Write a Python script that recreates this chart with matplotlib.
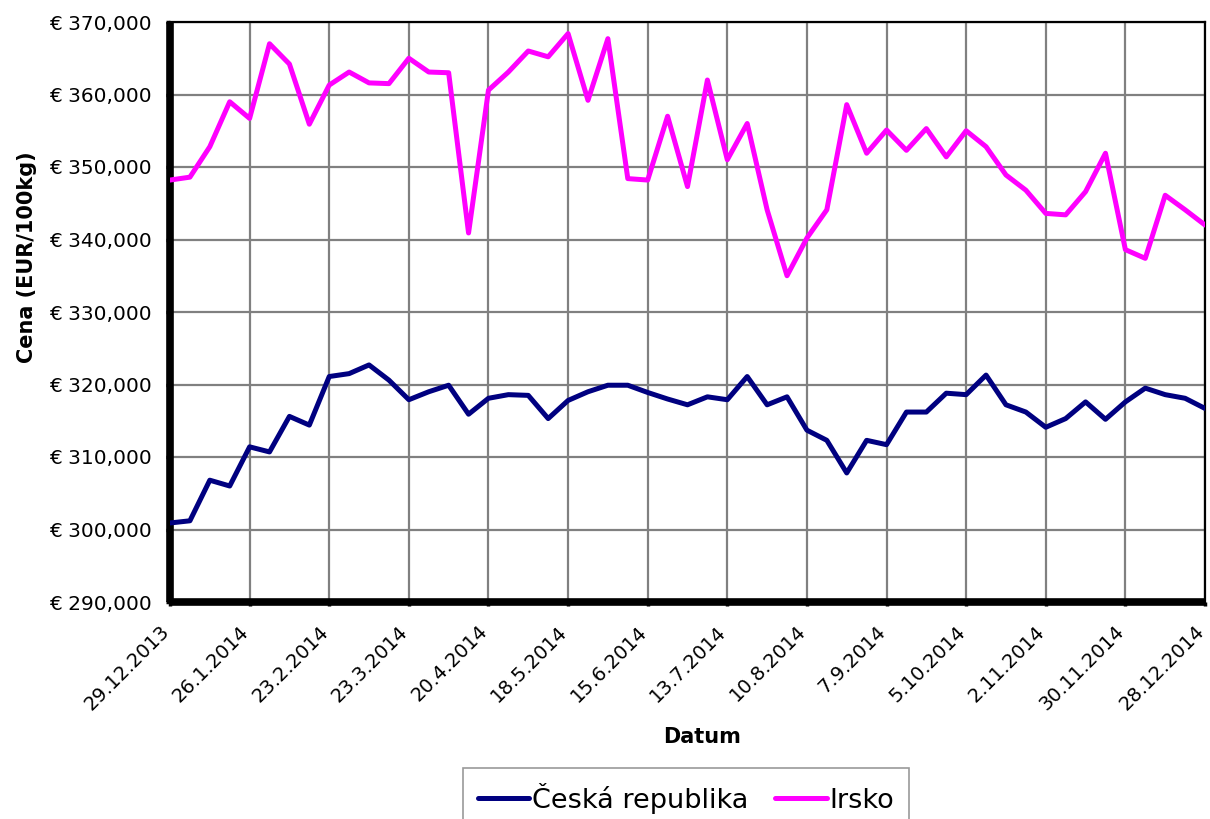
import matplotlib
matplotlib.use("Agg")
import matplotlib.pyplot as plt
from matplotlib.ticker import FuncFormatter
import numpy as np

plt.rcParams['font.family'] = ['DejaVu Sans']

# weekly prices, 29.12.2013 - 28.12.2014 (EUR/100kg)
cz_values = [300.9, 301.2, 306.8, 306.0, 311.4, 310.7, 315.6, 314.4, 321.1, 321.5,
             322.7, 320.6, 317.9, 319.0, 319.9, 315.9, 318.1, 318.6, 318.5, 315.3,
             317.8, 319.0, 319.9, 319.9, 318.9, 318.0, 317.2, 318.3, 317.9, 321.1,
             317.2, 318.3, 313.7, 312.3, 307.8, 312.3, 311.7, 316.2, 316.2, 318.8,
             318.6, 321.3, 317.2, 316.2, 314.1, 315.3, 317.6, 315.2, 317.6, 319.5,
             318.6, 318.1, 316.7]
ie_values = [348.2, 348.6, 352.8, 359.0, 356.7, 367.0, 364.2, 355.9, 361.3, 363.1,
             361.6, 361.5, 365.0, 363.1, 363.0, 340.9, 360.6, 363.1, 366.0, 365.2,
             368.4, 359.2, 367.7, 348.4, 348.2, 357.0, 347.3, 362.0, 351.0, 356.0,
             344.1, 335.0, 340.2, 344.1, 358.6, 351.9, 355.1, 352.3, 355.3, 351.4,
             355.0, 352.8, 348.9, 346.8, 343.6, 343.4, 346.6, 351.9, 338.6, 337.4,
             346.1, 344.1, 342.0]
series_names = ['Česká republika', 'Irsko']
tick_labels = ['29.12.2013', '26.1.2014', '23.2.2014', '23.3.2014', '20.4.2014',
               '18.5.2014', '15.6.2014', '13.7.2014', '10.8.2014', '7.9.2014',
               '5.10.2014', '2.11.2014', '30.11.2014', '28.12.2014']
y_ticks = [290000, 300000, 310000, 320000, 330000, 340000, 350000, 360000, 370000]

weeks = np.arange(len(cz_values))
cz = np.array(cz_values) * 1000
ie = np.array(ie_values) * 1000

fig = plt.figure(figsize=(12.1, 8.19), dpi=100)
ax = fig.add_axes([170 / 1210, 1 - 602 / 819, 1035 / 1210, 580 / 819])

ax.plot(weeks, cz, color='#000080', linewidth=3.6, label=series_names[0],
        solid_joinstyle='round', solid_capstyle='round', zorder=3)
ax.plot(weeks, ie, color='#FF00FF', linewidth=3.6, label=series_names[1],
        solid_joinstyle='round', solid_capstyle='round', zorder=3)

ax.set_xlim(0, len(weeks) - 1)
ax.set_ylim(y_ticks[0], y_ticks[-1])
ax.set_yticks(y_ticks)
ax.yaxis.set_major_formatter(FuncFormatter(lambda v, p: '€ {:,.0f}'.format(v)))
ax.set_xticks(weeks[::4])
ax.set_xticklabels(tick_labels, rotation=45, ha='right', va='baseline',
                   rotation_mode='anchor')

ax.grid(True, color='#808080', linewidth=1.6, zorder=0)
ax.set_axisbelow(True)

for side in ['left', 'bottom']:
    ax.spines[side].set_linewidth(5.5)
    ax.spines[side].set_capstyle('butt')
for side in ['top', 'right']:
    ax.spines[side].set_linewidth(1.6)

ax.tick_params(axis='y', direction='out', length=3, width=2.5, pad=10,
               labelsize=14.5)
ax.tick_params(axis='x', direction='out', length=3, width=2.5, pad=19,
               labelsize=14)

fig.text(27 / 1210, 1 - 257 / 819, 'Cena (EUR/100kg)', rotation=90,
         ha='center', va='center', fontsize=15, fontweight='bold')
fig.text(702 / 1210, 1 - 737 / 819, 'Datum', ha='center', va='center',
         fontsize=15, fontweight='bold')

leg = fig.legend(loc='upper center', bbox_to_anchor=(686 / 1210, 1 - 768 / 819),
                 ncol=2, fontsize=19.5, frameon=True, fancybox=False,
                 handlelength=1.9, handletextpad=0.1, columnspacing=1.0,
                 borderpad=0.55, borderaxespad=0)
leg.get_frame().set_edgecolor('#808080')
leg.get_frame().set_linewidth(1.2)

fig.savefig('out.png', dpi=100)
